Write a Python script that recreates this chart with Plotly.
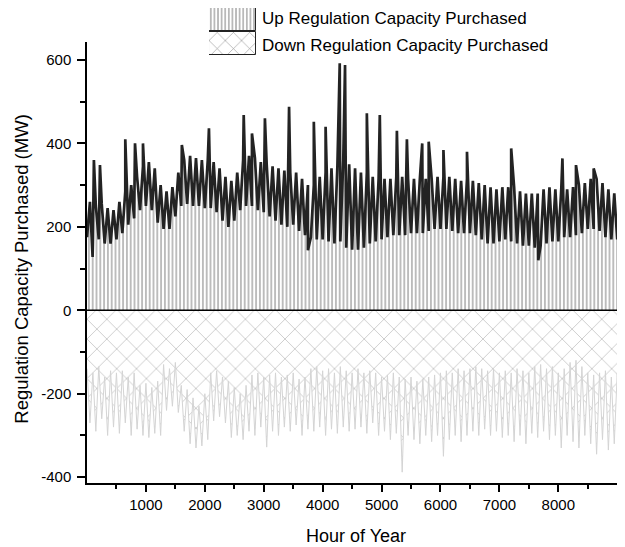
"""Regulation capacity purchased per hour of year (up / down)."""
import plotly.graph_objects as go

# hour positions of the read-off band points (low edge at h, high edge at h + 50)
hours = list(range(0, 9200, 100))

up_low = [175, 165, 170, 160, 160, 170, 185, 205, 220, 240,
          250, 240, 210, 195, 195, 225, 250, 255, 250, 250,
          245, 245, 235, 215, 200, 215, 240, 250, 250, 240,
          235, 225, 215, 205, 200, 205, 190, 180, 175, 170,
          170, 165, 160, 165, 150, 145, 145, 150, 160, 165,
          170, 175, 180, 180, 180, 185, 185, 185, 190, 195,
          195, 195, 190, 185, 185, 185, 180, 170, 160, 160,
          165, 170, 165, 160, 155, 155, 150, 155, 160, 165,
          165, 175, 175, 180, 185, 195, 195, 190, 175, 170,
          170, 175]
up_high = [260, 250, 255, 245, 240, 260, 285, 300, 320, 345,
           355, 340, 300, 285, 295, 330, 360, 370, 365, 360,
           360, 355, 340, 320, 310, 330, 360, 370, 365, 355,
           350, 345, 340, 335, 330, 330, 315, 300, 300, 320,
           330, 340, 345, 360, 350, 340, 330, 330, 320, 315,
           315, 315, 320, 320, 315, 315, 315, 315, 315, 320,
           320, 320, 315, 310, 315, 310, 305, 300, 295, 290,
           295, 295, 295, 285, 280, 280, 280, 290, 295, 290,
           290, 290, 295, 300, 305, 315, 315, 305, 290, 280,
           270, 265]
# isolated peaks / dips that stand out of the band
up_spike_hours = [95, 117, 220, 650, 815, 950, 1610, 2070, 2660, 2800,
                  3020, 3430, 3750, 3850, 4050, 4290, 4380, 4750, 4970, 5260,
                  5430, 5690, 5800, 6050, 6450, 7200, 7660, 8070, 8300, 8600]
up_spike_values = [128, 360, 348, 410, 400, 400, 396, 436, 468, 424,
                   460, 488, 144, 452, 440, 592, 588, 472, 468, 430,
                   410, 400, 404, 384, 380, 388, 120, 364, 348, 340]

down_upper = [-140, -150, -135, -160, -145, -150, -145, -160, -150, -180,
              -175, -185, -170, -130, -140, -125, -180, -190, -210, -230,
              -200, -150, -145, -160, -170, -185, -200, -180, -155, -150,
              -160, -155, -150, -160, -155, -150, -165, -160, -140, -135,
              -145, -140, -150, -135, -145, -150, -140, -150, -145, -150,
              -160, -155, -150, -160, -165, -160, -170, -165, -160, -155,
              -150, -145, -150, -140, -145, -140, -135, -140, -145, -140,
              -150, -145, -150, -140, -145, -150, -135, -130, -140, -135,
              -150, -140, -125, -120, -135, -150, -155, -150, -145, -160,
              -150, -155]
down_lower = [-270, -290, -260, -300, -280, -295, -270, -300, -285, -300,
              -305, -295, -300, -240, -230, -245, -290, -320, -330, -325,
              -310, -265, -255, -270, -305, -300, -310, -290, -300, -280,
              -328, -290, -300, -280, -290, -275, -300, -285, -290, -280,
              -300, -285, -295, -280, -290, -285, -280, -295, -270, -300,
              -290, -310, -295, -388, -300, -310, -320, -300, -315, -300,
              -350, -310, -300, -315, -300, -290, -300, -285, -300, -290,
              -305, -300, -315, -300, -320, -295, -305, -290, -310, -300,
              -330, -300, -315, -330, -300, -320, -345, -310, -335, -320,
              -344, -310]

x_ticks = [1000, 2000, 3000, 4000, 5000, 6000, 7000, 8000]
x_minor = [500, 1500, 2500, 3500, 4500, 5500, 6500, 7500, 8500]
y_ticks = [-400, -200, 0, 200, 400, 600]
y_labels = ["-400", "-200", "0", "200", "400", "600"]
legend_names = ["Up Regulation Capacity Purchased", "Down Regulation Capacity Purchased"]

FONT = "Liberation Sans, Arial, Helvetica, sans-serif"


def band_points(lows, highs, extra_x=(), extra_y=()):
    pts = []
    for h, lo, hi in zip(hours, lows, highs):
        pts.append((h, lo))
        pts.append((h + 50, hi))
    pts += list(zip(extra_x, extra_y))
    pts.sort(key=lambda p: p[0])
    return [p[0] for p in pts], [p[1] for p in pts]


up_x, up_y = band_points(up_low, up_high, up_spike_hours, up_spike_values)
down_x, down_y = band_points(down_upper, down_lower)

fig = go.Figure()
fig.add_trace(
    go.Scatter(
        x=up_x, y=up_y, mode="lines", name=legend_names[0],
        line=dict(color="#232323", width=2.7, simplify=False),
        fill="tozeroy",
        fillpattern=dict(shape="|", size=3.8, solidity=0.3, fgcolor="#1e1e1e", bgcolor="white"),
        showlegend=False,
    )
)
fig.add_trace(
    go.Scatter(
        x=down_x, y=down_y, mode="lines", name=legend_names[1],
        line=dict(color="#d4d4d4", width=1, simplify=False),
        fill="tozeroy",
        fillpattern=dict(shape="x", size=14, solidity=0.1, fgcolor="#777777", bgcolor="white"),
        showlegend=False,
    )
)

# legend swatches drawn as patterned bars in a small inset axis
fig.add_trace(
    go.Bar(
        x=[1], y=[1], orientation="h", width=0.96, xaxis="x2", yaxis="y2",
        marker=dict(color="white", line=dict(color="#222", width=1),
                    pattern=dict(shape="|", size=3.6, solidity=0.3, fgcolor="#111")),
        showlegend=False, hoverinfo="skip",
    )
)
fig.add_trace(
    go.Bar(
        x=[1], y=[0], orientation="h", width=0.96, xaxis="x2", yaxis="y2",
        marker=dict(color="white", line=dict(color="#222", width=1),
                    pattern=dict(shape="x", size=11.5, solidity=0.1, fgcolor="#222")),
        showlegend=False, hoverinfo="skip",
    )
)

fig.add_hline(y=0, line=dict(color="black", width=1.5), layer="above")

for i, txt in enumerate(legend_names):
    fig.add_annotation(
        text=txt, xref="paper", yref="paper", x=0.3216, y=[0.977, 0.922][i],
        xanchor="left", yanchor="middle", showarrow=False,
        font=dict(size=17, color="black", family=FONT),
    )

# y title as a rotated annotation so it sits where the reference has it
fig.add_annotation(
    text="Regulation Capacity Purchased (MW)", textangle=-90,
    xref="paper", yref="paper", x=-0.121, y=0.451,
    xanchor="center", yanchor="middle", showarrow=False,
    font=dict(size=18.5, color="black", family=FONT),
)

axis_common = dict(
    showgrid=False, zeroline=False, showline=True, linecolor="black", linewidth=1.5,
    ticks="outside", tickcolor="black", tickwidth=1.5,
    tickfont=dict(size=15, color="black", family=FONT),
)

# the page adds an 8px body margin, so the figure is 8px smaller each way
fig.update_layout(
    width=617, height=539,
    margin=dict(l=79, r=0, t=0, b=64),
    paper_bgcolor="white", plot_bgcolor="white",
    font=dict(family=FONT, color="black"),
    xaxis=dict(
        range=[0, 9132], tickmode="array", tickvals=x_ticks, ticklen=7,
        minor=dict(tickmode="array", tickvals=x_minor, ticklen=4, tickcolor="black", tickwidth=1.5, ticks="outside"),
        title=dict(text="Hour of Year", font=dict(size=18, family=FONT), standoff=18),
        **axis_common,
    ),
    yaxis=dict(
        range=[-414, 643], domain=[0, 0.9284],
        tickmode="array", tickvals=y_ticks, ticktext=y_labels, ticklen=8,
        ticklabelstandoff=3,
        minor=dict(dtick=100, ticklen=5, tickcolor="black", tickwidth=1.5, ticks="outside"),
        **axis_common,
    ),
    xaxis2=dict(domain=[0.2268, 0.3141], range=[0, 1], visible=False, anchor="y2"),
    yaxis2=dict(domain=[0.901, 1.0], range=[-0.5, 1.5], visible=False, anchor="x2"),
    bargap=0,
)

fig.write_html("out.html")
